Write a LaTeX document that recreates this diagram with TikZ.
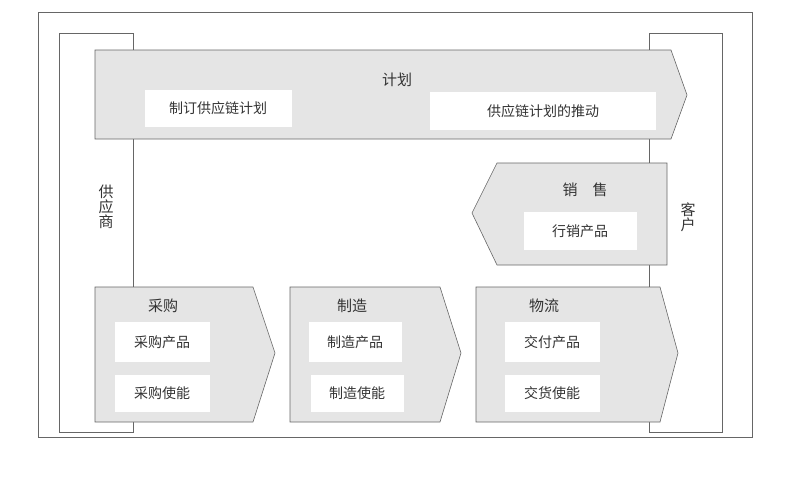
\documentclass[tikz,border=0pt]{standalone}
\usepackage{fontspec}
\newfontfamily\cjk{Noto Sans CJK SC}
\begin{document}
\begin{tikzpicture}[x=1pt,y=-1pt,
  shp/.style={draw=black!60,fill=black!10,line width=0.6pt},
  wb/.style={fill=white,inner sep=0pt,font=\cjk\fontsize{14}{16}\selectfont,text=black!80},
  ttl/.style={font=\cjk\fontsize{15}{17}\selectfont,text=black!80},
  frm/.style={draw=black!60,line width=0.6pt}]
\useasboundingbox (0,0) rectangle (790,493);
\draw[frm] (38,12) rectangle (752,437);
\draw[frm] (59,33) rectangle (133,432);
\draw[frm] (649,33) rectangle (722,432);
% plan
\draw[shp] (95,50) -- (671,50) -- (687,95) -- (671,139) -- (95,139) -- cycle;
\node[ttl] (plan) at (397,80) {计划};
\node[wb,minimum width=147pt,minimum height=37pt] (p1) at (218,108) {制订供应链计划};
\node[wb,minimum width=226pt,minimum height=38pt] (p2) at (543,111) {供应链计划的推动};
% sales
\draw[shp] (497,163) -- (667,163) -- (667,265) -- (497,265) -- (472,213) -- cycle;
\node[ttl] (sales) at (585,190) {销\quad 售};
\node[wb,minimum width=113pt,minimum height=38pt] (s1) at (580,231) {行销产品};
% bottom
\draw[shp] (95,287) -- (253,287) -- (275,353) -- (253,422) -- (95,422) -- cycle;
\draw[shp] (290,287) -- (440,287) -- (461,353) -- (440,422) -- (290,422) -- cycle;
\draw[shp] (476,287) -- (660,287) -- (678,353) -- (660,422) -- (476,422) -- cycle;
\node[ttl] (b1) at (163,306) {采购};
\node[ttl] (b2) at (352,306) {制造};
\node[ttl] (b3) at (544,306) {物流};
\node[wb,minimum width=95pt,minimum height=40pt] (b11) at (162,342) {采购产品};
\node[wb,minimum width=95pt,minimum height=37pt] (b12) at (162,393) {采购使能};
\node[wb,minimum width=93pt,minimum height=40pt] (b21) at (355,342) {制造产品};
\node[wb,minimum width=93pt,minimum height=37pt] (b22) at (357,393) {制造使能};
\node[wb,minimum width=95pt,minimum height=40pt] (b31) at (552,342) {交付产品};
\node[wb,minimum width=95pt,minimum height=37pt] (b32) at (552,393) {交货使能};
\node[ttl,align=center,inner sep=0pt] (sup) at (106,207) {供\\[-2pt]应\\[-2pt]商};
\node[ttl,align=center,inner sep=0pt] (cus) at (688,217) {客\\[-2pt]户};
\end{tikzpicture}
\end{document}
